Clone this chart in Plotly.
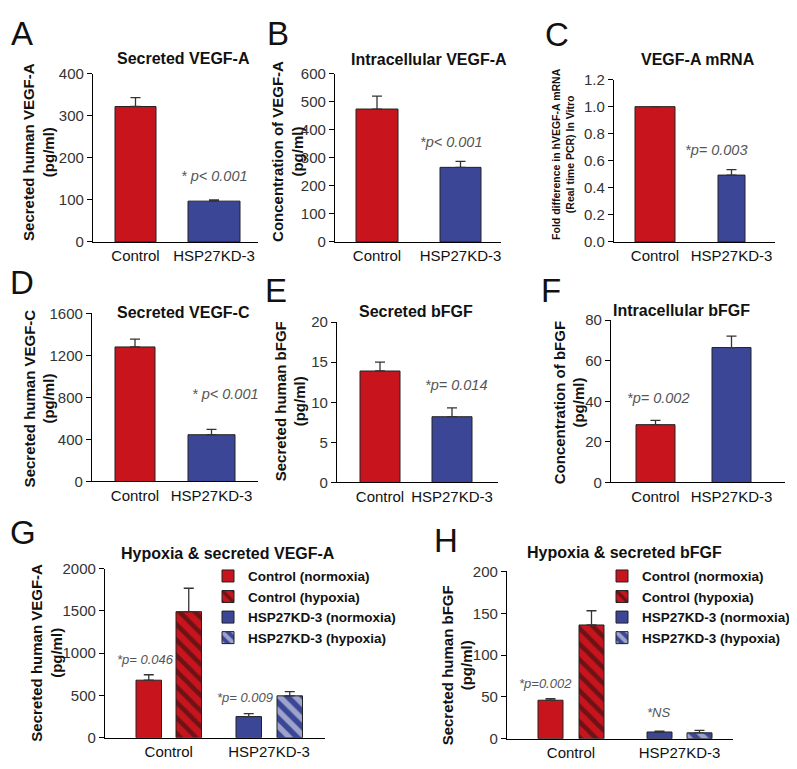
import plotly.graph_objects as go

W, H = 797, 769
FONT = "Arial, Liberation Sans, sans-serif"
RED = "#C8141C"
BLUE = "#3B4696"

# ---------------- data ----------------
categories = ["Control", "HSP27KD-3"]

vegfa_secreted = [322, 97]
vegfa_secreted_err = [21, 3]
vegfa_intra = [474, 266]
vegfa_intra_err = [46, 21]
vegfa_mrna = [1.0, 0.494]
vegfa_mrna_err = [0, 0.04]
vegfc_secreted = [1280, 445]
vegfc_secreted_err = [75, 50]
bfgf_secreted = [13.9, 8.2]
bfgf_secreted_err = [1.1, 1.1]
bfgf_intra = [28.5, 66.5]
bfgf_intra_err = [2.1, 5.6]

# G: hypoxia & secreted VEGF-A  (index 0 = Control, 1 = HSP27KD-3)
g_normoxia = [680, 250]
g_normoxia_err = [64, 35]
g_hypoxia = [1490, 495]
g_hypoxia_err = [277, 49]
# H: hypoxia & secreted bFGF
h_normoxia = [46, 8]
h_normoxia_err = [2, 1]
h_hypoxia = [136, 7]
h_hypoxia_err = [17, 3]

legend_names = ["Control (normoxia)", "Control (hypoxia)",
                "HSP27KD-3 (normoxia)", "HSP27KD-3 (hypoxia)"]

# ---------------- layout specs (pixels) ----------------
simple_panels = [
    dict(letter="A", vals=vegfa_secreted, err=vegfa_secreted_err, title="Secreted VEGF-A",
         ylabel="Secreted human VEGF-A<br>(pg/ml)", ymax=400, dtick=100, fmt="",
         xl=85, xr=250, yt=58, yb=230, centers=(127.5, 206), widths=(41, 52),
         title_pos=(175, 42), ylab_pos=(31, 138), ylab_size=15,
         p="* p< 0.001", p_pos=(206, 163), letter_pos=(14, 17)),
    dict(letter="B", vals=vegfa_intra, err=vegfa_intra_err, title="Intracellular VEGF-A",
         ylabel="Concentration of VEGF-A<br>(pg/ml)", ymax=600, dtick=100, fmt="",
         xl=327, xr=493, yt=58, yb=230, centers=(369, 452.5), widths=(42, 41),
         title_pos=(421, 43), ylab_pos=(280, 138), ylab_size=15,
         p="*p< 0.001", p_pos=(443, 128), letter_pos=(270, 17)),
    dict(letter="C", vals=vegfa_mrna, err=vegfa_mrna_err, title="VEGF-A mRNA",
         ylabel="Fold difference in hVEGF-A mRNA<br>(Real time PCR) In Vitro", ymax=1.2, dtick=0.2, fmt=".1f",
         xl=606, xr=767, yt=64, yb=230, centers=(647, 723.5), widths=(40, 27),
         title_pos=(690, 43), ylab_pos=(555, 140), ylab_size=10.5,
         p="*p= 0.003", p_pos=(708, 136), letter_pos=(549, 18)),
    dict(letter="D", vals=vegfc_secreted, err=vegfc_secreted_err, title="Secreted VEGF-C",
         ylabel="Secreted human VEGF-C<br>(pg/ml)", ymax=1600, dtick=400, fmt="",
         xl=84, xr=250, yt=303, yb=475, centers=(127, 203.5), widths=(40, 47),
         title_pos=(175, 302), ylab_pos=(31, 390), ylab_size=15,
         p="* p< 0.001", p_pos=(218, 386), letter_pos=(14, 272)),
    dict(letter="E", vals=bfgf_secreted, err=bfgf_secreted_err, title="Secreted bFGF",
         ylabel="Secreted human bFGF<br>(pg/ml)", ymax=20, dtick=5, fmt="",
         xl=329, xr=490, yt=312, yb=476, centers=(372, 444), widths=(40, 40),
         title_pos=(408, 301), ylab_pos=(282, 393), ylab_size=15,
         p="*p= 0.014", p_pos=(448, 376), letter_pos=(268, 280)),
    dict(letter="F", vals=bfgf_intra, err=bfgf_intra_err, title="Intracellular bFGF",
         ylabel="Concentration of bFGF<br>(pg/ml)", ymax=80, dtick=20, fmt="",
         xl=603, xr=777, yt=310, yb=476, centers=(647.5, 723.5), widths=(39, 39),
         title_pos=(673, 300), ylab_pos=(561, 395), ylab_size=15,
         p="*p= 0.002", p_pos=(650, 390), letter_pos=(543, 280)),
]

group_panels = [
    dict(letter="G", norm=g_normoxia, norm_err=g_normoxia_err, hyp=g_hypoxia, hyp_err=g_hypoxia_err,
         title="Hypoxia &amp; secreted VEGF-A", ylabel="Secreted human VEGF-A<br>(pg/ml)",
         ymax=2000, dtick=500, xl=97, xr=317, yt=564, yb=737,
         centers=(160.75, 261), norm_left=(128, 228), hyp_left=(168, 269), bar_w=25.5,
         title_pos=(220, 549), ylab_pos=(39, 650),
         ps=[("*p= 0.046", (137, 657)), ("*p= 0.009", (237, 696))],
         letter_pos=(15, 527), legend_pos=(200, 556), legend_id="legend"),
    dict(letter="H", norm=h_normoxia, norm_err=h_normoxia_err, hyp=h_hypoxia, hyp_err=h_hypoxia_err,
         title="Hypoxia &amp; secreted bFGF", ylabel="Secreted human bFGF<br>(pg/ml)",
         ymax=200, dtick=50, xl=499, xr=725, yt=567, yb=738,
         centers=(563, 671.5), norm_left=(530, 639), hyp_left=(571, 679), bar_w=25,
         title_pos=(616, 548), ylab_pos=(449, 663),
         ps=[("*p=0.002", (537, 682)), ("*NS", (650, 711))],
         letter_pos=(438, 535), legend_pos=(594, 556), legend_id="legend2"),
]


def px(x):
    return x / W


def py(y):
    return 1 - y / H


fig = go.Figure()
annotations = []
layout = {}

axis_line = dict(showline=True, linecolor="black", linewidth=1.3, showgrid=False, zeroline=False)
ytick_font = dict(family=FONT, size=15, color="#333")
xtick_font = dict(family=FONT, size=15, color="#111")


def err_y(arr, n):
    return dict(type="data", array=arr, arrayminus=[0] * n, symmetric=False,
                color="#333", thickness=1.3, width=5)


def add_axes(i, spec, xrange):
    xa = "xaxis" if i == 1 else f"xaxis{i}"
    ya = "yaxis" if i == 1 else f"yaxis{i}"
    layout[xa] = dict(axis_line, domain=[px(spec["xl"]), px(spec["xr"])], anchor=f"y{i}",
                      type="category", range=xrange, ticks="", tickfont=xtick_font,
                      fixedrange=True)
    layout[ya] = dict(axis_line, domain=[py(spec["yb"]), py(spec["yt"])], anchor=f"x{i}",
                      range=[0, spec["ymax"]], dtick=spec["dtick"], tick0=0,
                      tickformat=spec.get("fmt", ""), ticks="outside", ticklen=5, tickwidth=1.2,
                      tickcolor="black", tickfont=ytick_font, fixedrange=True)


def add_texts(spec):
    tx, ty = spec["title_pos"]
    annotations.append(dict(text=f"<b>{spec['title']}</b>", x=px(tx), y=py(ty), xref="paper", yref="paper",
                            showarrow=False, xanchor="center", yanchor="middle",
                            font=dict(family=FONT, size=16, color="#111")))
    lx, ly = spec["ylab_pos"]
    annotations.append(dict(text=f"<b>{spec['ylabel']}</b>", x=px(lx), y=py(ly), xref="paper", yref="paper",
                            showarrow=False, xanchor="center", yanchor="middle", textangle=-90,
                            font=dict(family=FONT, size=spec.get("ylab_size", 15), color="#111")))
    ax_, ay_ = spec["letter_pos"]
    annotations.append(dict(text=spec["letter"], x=px(ax_), y=py(ay_), xref="paper", yref="paper",
                            showarrow=False, xanchor="center", yanchor="middle",
                            font=dict(family=FONT, size=33, color="#111")))


def add_p(text, pos, size=14):
    annotations.append(dict(text=f"<i>{text}</i>", x=px(pos[0]), y=py(pos[1]), xref="paper", yref="paper",
                            showarrow=False, xanchor="center", yanchor="middle",
                            font=dict(family=FONT, size=size, color="#555")))


i = 0
for spec in simple_panels:
    i += 1
    c0, c1 = spec["centers"]
    u = c1 - c0
    xrange = [-(c0 - spec["xl"]) / u, 1 + (spec["xr"] - c1) / u]
    fig.add_trace(go.Bar(
        x=categories, y=spec["vals"], width=[w / u for w in spec["widths"]],
        marker=dict(color=[RED, BLUE], line=dict(color="#222", width=1)),
        error_y=err_y(spec["err"], 2), xaxis=f"x{i}", yaxis=f"y{i}", showlegend=False,
    ))
    add_axes(i, spec, xrange)
    add_texts(spec)
    add_p(spec["p"], spec["p_pos"], size=14.5)

for spec in group_panels:
    i += 1
    c0, c1 = spec["centers"]
    u = c1 - c0
    xrange = [-(c0 - spec["xl"]) / u, 1 + (spec["xr"] - c1) / u]
    bw = spec["bar_w"] / u
    traces = [
        (legend_names[0], 0, "norm", RED, None, 0.4),
        (legend_names[1], 0, "hyp", RED, "#111", 0.42),
        (legend_names[2], 1, "norm", BLUE, None, 0.4),
        (legend_names[3], 1, "hyp", BLUE, "white", 0.5),
    ]
    for name, ci, kind, color, hatch, sol in traces:
        vals = spec[kind]
        errs = spec[kind + "_err"]
        left = spec["norm_left" if kind == "norm" else "hyp_left"][ci]
        offset = (left - spec["centers"][ci]) / u
        marker = dict(color=color, line=dict(color="#222", width=1))
        if hatch:
            marker["pattern"] = dict(shape="\\", fgcolor=hatch, fillmode="overlay", size=11, solidity=sol)
        fig.add_trace(go.Bar(
            x=[categories[ci]], y=[vals[ci]], width=[bw], offset=[offset], name=name,
            marker=marker, error_y=err_y([errs[ci]], 1),
            xaxis=f"x{i}", yaxis=f"y{i}", legend=spec["legend_id"], showlegend=True,
        ))
    add_axes(i, spec, xrange)
    add_texts(spec)
    for t, pos in spec["ps"]:
        add_p(t, pos, size=13)
    lx, ly = spec["legend_pos"]
    layout[spec["legend_id"]] = dict(x=px(lx), y=py(ly), xanchor="left", yanchor="top",
                                     font=dict(family=FONT, size=13.5, color="#111", weight="bold"),
                                     bgcolor="rgba(0,0,0,0)", tracegroupgap=0, itemwidth=30,
                                     traceorder="normal")

fig.update_layout(
    width=W, height=H, margin=dict(l=0, r=0, t=0, b=0),
    paper_bgcolor="white", plot_bgcolor="white",
    barmode="overlay", annotations=annotations, **layout,
)

fig.write_html("out.html", config={"displayModeBar": False})
